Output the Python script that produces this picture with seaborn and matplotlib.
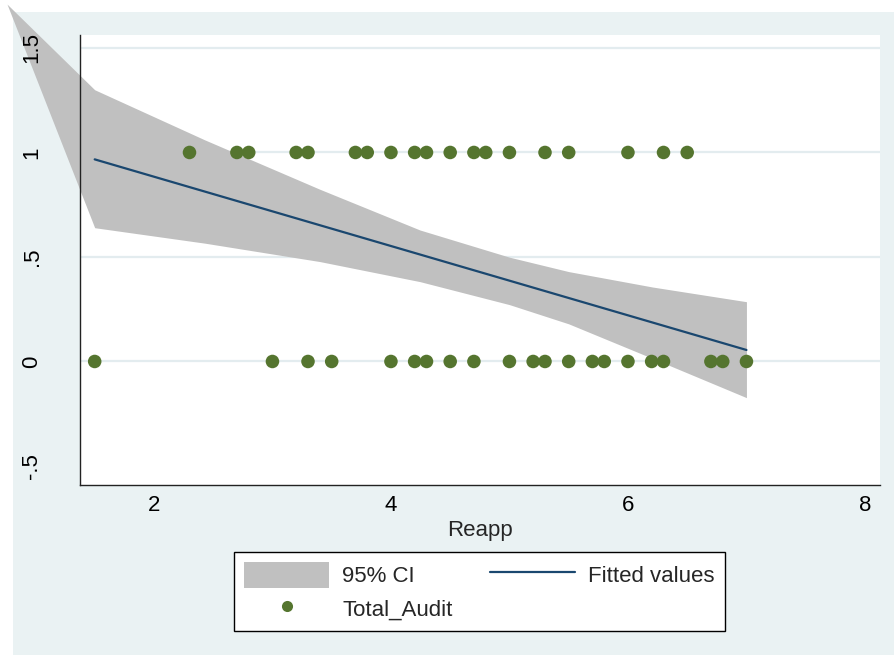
import numpy as np
import pandas as pd
import matplotlib
matplotlib.use("Agg")
import matplotlib.pyplot as plt
from matplotlib.patches import Rectangle, Patch
from matplotlib.lines import Line2D
import seaborn as sns

# ---- data ----
reapp_audit1 = [2.3, 2.7, 2.8, 3.2, 3.3, 3.7, 3.8, 4.0, 4.2, 4.3, 4.5, 4.7, 4.8,
                5.0, 5.3, 5.5, 6.0, 6.3, 6.5]
reapp_audit0 = [1.5, 3.0, 3.3, 3.5, 4.0, 4.2, 4.3, 4.5, 4.7, 5.0, 5.2, 5.3, 5.5,
                5.7, 5.8, 6.0, 6.2, 6.3, 6.7, 6.8, 7.0]

fit_x = [1.5, 7.0]
fit_y = [0.967, 0.055]

# 95% CI band (first vertex reproduces the band's overspill at the top-left)
ci_x = [0.76, 1.5, 2.43, 3.4, 4.245, 5.0, 5.5, 6.21, 7.0]
ci_hi = [1.71, 1.30, 1.06, 0.824, 0.629, 0.499, 0.430, 0.356, 0.286]
ci_lo = [1.71, 0.64, 0.566, 0.478, 0.382, 0.272, 0.180, 0.014, -0.173]

x_ticks = [2, 4, 6, 8]
y_ticks = [-0.5, 0, 0.5, 1, 1.5]
y_ticklabels = ["-.5", "0", ".5", "1", "1.5"]
grid_levels = [0, 0.5, 1, 1.5]

df = pd.DataFrame({
    "Reapp": reapp_audit1 + reapp_audit0,
    "Total_Audit": [1] * len(reapp_audit1) + [0] * len(reapp_audit0),
})
fit_df = pd.DataFrame({"Reapp": fit_x, "Fitted": fit_y})

# ---- style ----
sns.set_style("white")
plt.rcParams["font.family"] = ["Liberation Sans", "DejaVu Sans"]

BG = "#EAF2F3"
GRID = "#E3ECEF"
BAND = "#C0C0C0"
LINE = "#1A476F"
DOT = "#55752F"

fig = plt.figure(figsize=(8.94, 6.55), dpi=100)
fig.patch.set_facecolor("white")
fig.add_artist(Rectangle((13 / 894, 0), 1 - 13 / 894, 1 - 12 / 655,
                         transform=fig.transFigure, facecolor=BG,
                         edgecolor="none", zorder=-1))

ax = fig.add_axes([80 / 894, 1 - 485 / 655, 800 / 894, 450 / 655])
ax.set_facecolor("white")
ax.grid(False)

for g in grid_levels:
    ax.axhline(g, color=GRID, linewidth=1.6, zorder=0.5)

ax.fill_between(ci_x, ci_lo, ci_hi, color=BAND, linewidth=0, clip_on=False, zorder=1)
sns.lineplot(data=fit_df, x="Reapp", y="Fitted", ax=ax, color=LINE,
             linewidth=1.6, zorder=2, legend=False)
sns.scatterplot(data=df, x="Reapp", y="Total_Audit", ax=ax, color=DOT,
                s=95, edgecolor="none", linewidth=0, zorder=3, legend=False)

ax.set_xlim(1.376, 8.127)
ax.set_ylim(-0.591, 1.562)
ax.set_xticks(x_ticks)
ax.set_xticklabels([str(t) for t in x_ticks])
ax.set_yticks(y_ticks)
ax.set_yticklabels(y_ticklabels, rotation=90, va="center")
ax.set_axisbelow(False)

for side in ["top", "right"]:
    ax.spines[side].set_visible(False)
for side in ["left", "bottom"]:
    ax.spines[side].set_color("#222222")
    ax.spines[side].set_linewidth(1.0)

ax.tick_params(axis="both", direction="out", length=6, width=0.9,
               color="#444444", labelsize=16, labelcolor="black")
ax.tick_params(axis="x", pad=1)
ax.tick_params(axis="y", pad=21)

ax.set_xlabel("Reapp", fontsize=16, labelpad=3)
ax.set_ylabel("")

handles = [Patch(facecolor=BAND, edgecolor="none"),
           Line2D([], [], marker="o", linestyle="none", color=DOT,
                  markersize=8, markeredgewidth=0),
           Line2D([], [], color=LINE, linewidth=1.6)]
labels = ["95% CI", "Total_Audit", "Fitted values"]
leg = fig.legend(handles, labels, loc="center", bbox_to_anchor=(0.5364, 0.0969),
                 ncol=2, fontsize=16, frameon=True, fancybox=False,
                 handlelength=3.8, handleheight=1.4, handletextpad=0.6,
                 columnspacing=1.7, labelspacing=0.35, borderpad=0.45,
                 borderaxespad=0)
leg.get_frame().set_edgecolor("black")
leg.get_frame().set_linewidth(1.0)
leg.get_frame().set_facecolor("white")
leg.get_frame().set_alpha(1)

fig.savefig("out.png", dpi=100)
